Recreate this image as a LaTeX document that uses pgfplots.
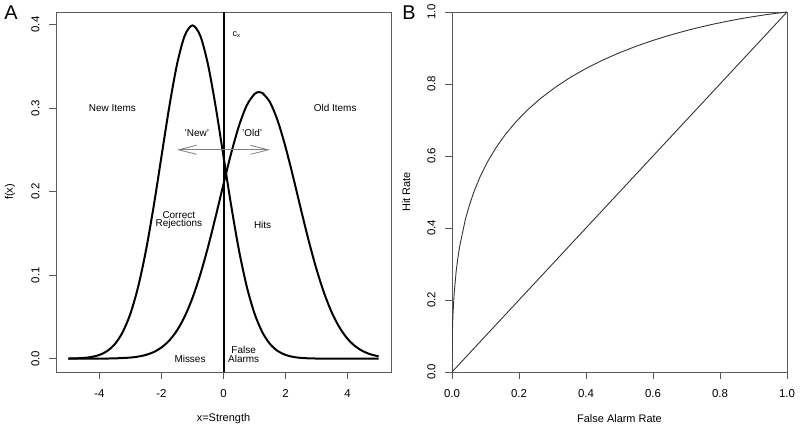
\documentclass[border=0pt]{standalone}
\usepackage{pgfplots}
\pgfplotsset{compat=1.18}
\usepackage{fontspec}
\setmainfont{Liberation Sans}
\usetikzlibrary{arrows.meta}

\definecolor{frame}{gray}{0.35}
\definecolor{roc}{gray}{0.2}

\pgfplotsset{rstyle/.style={
    scale only axis, width=335bp, height=360bp,
    axis line style={frame, line width=0.8bp},
    tick align=outside, xtick pos=bottom, ytick pos=left,
    major tick length=7bp,
    tick style={frame, line width=0.8bp},
    ticklabel style={font=\fontsize{11.5}{13}\selectfont},
    xticklabel shift=7bp, yticklabel shift=6bp,
    yticklabel style={rotate=90, anchor=south},
    label style={font=\fontsize{11}{13}\selectfont},
    xlabel style={at={(axis description cs:0.5,-0.13)}, anchor=center},
    ylabel style={at={(axis description cs:-0.137,0.5)}, anchor=center},
}}

\begin{document}
\begin{tikzpicture}
\useasboundingbox (0,0) rectangle (800bp,428bp);

% Panel A: signal detection densities
\begin{axis}[rstyle,
    at={(56bp,56bp)}, anchor=south west,
    xmin=-5.4, xmax=5.4, ymin=-0.016, ymax=0.415,
    xtick={-4,-2,0,2,4}, xticklabels={-4,-2,0,2,4},
    ytick={0,0.1,0.2,0.3,0.4}, yticklabels={0.0,0.1,0.2,0.3,0.4},
    xlabel={x=Strength}, ylabel={f(x)},
]
\addplot[black, line width=2bp, smooth] coordinates {
(-5,0.000134) (-4.75,0.000353) (-4.5,0.000873) (-4.25,0.002029) (-4,0.004432)
(-3.75,0.009094) (-3.5,0.017528) (-3.25,0.031740) (-3,0.053991) (-2.75,0.086277)
(-2.5,0.129518) (-2.25,0.182649) (-2,0.241971) (-1.75,0.301137) (-1.5,0.352065)
(-1.25,0.386668) (-1,0.398942) (-0.75,0.386668) (-0.5,0.352065) (-0.25,0.301137)
(0,0.241971) (0.25,0.182649) (0.5,0.129518) (0.75,0.086277) (1,0.053991)
(1.25,0.031740) (1.5,0.017528) (1.75,0.009094) (2,0.004432) (2.25,0.002029)
(2.5,0.000873) (2.75,0.000353) (3,0.000134) (3.5,0.000016) (4,0.000002) (5,0)
};
\addplot[black, line width=2bp, smooth] coordinates {
(-5,0.000002) (-4,0.000066) (-3.5,0.000316) (-3,0.001290) (-2.75,0.002457)
(-2.5,0.004493) (-2.25,0.007895) (-2,0.013340) (-1.75,0.021638) (-1.5,0.033726)
(-1.25,0.050526) (-1,0.072702) (-0.75,0.100522) (-0.5,0.133547) (-0.25,0.170456)
(0,0.209027) (0.25,0.246278) (0.5,0.278791) (0.75,0.303221) (1,0.316860)
(1.15,0.319150) (1.25,0.318130) (1.5,0.306881) (1.75,0.284422) (2,0.253272)
(2.25,0.216689) (2.5,0.178123) (2.75,0.140674) (3,0.106752) (3.25,0.077819)
(3.5,0.054514) (3.75,0.036695) (4,0.023724) (4.25,0.014742) (4.5,0.008798)
(4.75,0.005045) (5,0.002778)
};
% criterion
\addplot[black, line width=2.2bp] coordinates {(0.01,-0.016) (0.01,0.415)};
\draw[gray, line width=0.8bp, {Straight Barb[length=18bp,width=9bp]}-{Straight Barb[length=18bp,width=9bp]}]
    (axis cs:-1.5,0.25) -- (axis cs:1.5,0.25);

\begin{scope}[every node/.style={font=\fontsize{10}{10.5}\selectfont, align=center}]
\node at (axis cs:-3.58,0.300) {New Items};
\node at (axis cs:3.6,0.300) {Old Items};
\node at (axis cs:-0.86,0.270) {'New'};
\node at (axis cs:0.92,0.270) {'Old'};
\node[font=\fontsize{9}{10}\selectfont] at (axis cs:0.42,0.388) {c\textsubscript{x}};
\node at (axis cs:-1.44,0.166) {Correct\\[-2pt]Rejections};
\node at (axis cs:1.26,0.160) {Hits};
\node at (axis cs:-1.08,0.0) {Misses};
\node at (axis cs:0.65,0.005) {False\\[-2pt]Alarms};
\end{scope}
\end{axis}

% Panel B: ROC
\begin{axis}[rstyle,
    at={(452bp,56bp)}, anchor=south west,
    xmin=0, xmax=1, ymin=0, ymax=1,
    xtick={0,0.2,0.4,0.6,0.8,1}, xticklabels={0.0,0.2,0.4,0.6,0.8,1.0},
    ytick={0,0.2,0.4,0.6,0.8,1}, yticklabels={0.0,0.2,0.4,0.6,0.8,1.0},
    xlabel={False Alarm Rate}, ylabel={Hit Rate},
]
\addplot[roc, line width=0.9bp] coordinates {
(0,0) (0.0000003,0.00264) (0.0000317,0.0233) (0.000233,0.0559) (0.000577,0.0823)
(0.00135,0.1170) (0.00298,0.1611) (0.00621,0.2148) (0.01222,0.2776) (0.0168,0.3121)
(0.02275,0.3483) (0.04006,0.4247) (0.0521,0.4641) (0.06681,0.5040) (0.0846,0.5438)
(0.10565,0.5832) (0.1303,0.6217) (0.15866,0.6591) (0.1908,0.6950) (0.22663,0.7291)
(0.2660,0.7611) (0.30854,0.7910) (0.3538,0.8186) (0.40129,0.8438) (0.4503,0.8665)
(0.5,0.8869) (0.5497,0.9049) (0.59871,0.9207) (0.6462,0.9345) (0.69146,0.9463)
(0.7340,0.9564) (0.77337,0.9649) (0.8092,0.9719) (0.84134,0.9778) (0.8697,0.9826)
(0.89435,0.9864) (0.93319,0.9920) (0.9599,0.99547) (0.97725,0.9975) (0.99379,0.99934)
(0.99865,0.99985) (1,1)
};
\addplot[roc, line width=0.9bp] coordinates {(0,0) (1,1)};
\end{axis}

\node[font=\fontsize{20}{22}\selectfont] at (11bp,415bp) {A};
\node[font=\fontsize{20}{22}\selectfont] at (409bp,415bp) {B};
\end{tikzpicture}
\end{document}
